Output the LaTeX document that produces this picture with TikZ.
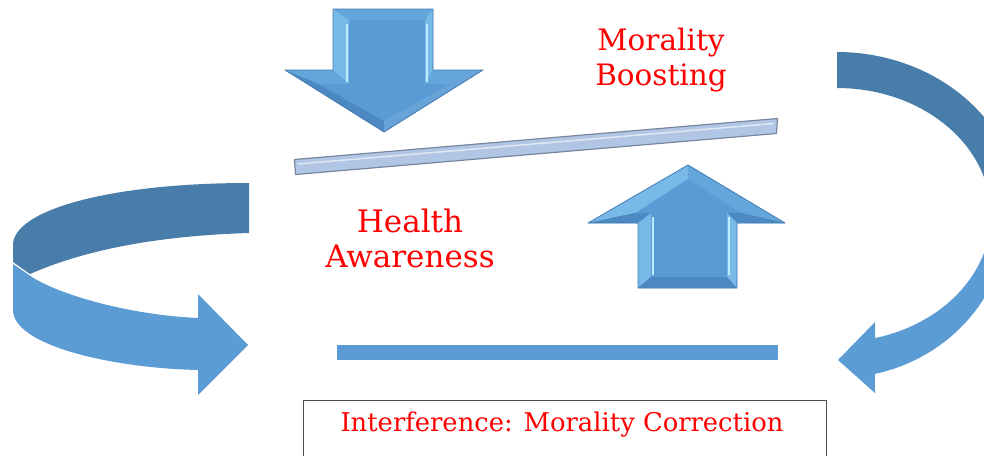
\documentclass[tikz,border=0pt]{standalone}
\usepackage{fontspec}
\setmainfont{DejaVu Serif}
\definecolor{bandDark}{RGB}{72,125,170}
\definecolor{bandLight}{RGB}{91,156,212}
\definecolor{faceBlue}{RGB}{91,155,213}
\definecolor{edgeBlue}{RGB}{70,125,180}
\definecolor{facetLight}{RGB}{120,185,232}
\definecolor{facetMid}{RGB}{100,165,220}
\definecolor{facetDark}{RGB}{76,136,194}
\definecolor{glint}{RGB}{190,236,252}
\definecolor{beamFill}{RGB}{176,198,228}
\definecolor{beamEdge}{RGB}{120,134,158}
\definecolor{textRed}{RGB}{255,0,0}
\tikzset{
  labeltext/.style={text=textRed, font=\fontsize{29.5}{35}\selectfont, align=center, inner sep=0pt},
  labeltextbig/.style={text=textRed, font=\fontsize{31}{35}\selectfont, align=center, inner sep=0pt},
  boxtext/.style={text=textRed, font=\fontsize{25.8}{30}\selectfont, inner sep=0pt},
}
\begin{document}
\begin{tikzpicture}[x=1pt,y=-1pt]
\useasboundingbox (0,0) rectangle (984,455);
\clip (0,0) rectangle (984,455);

% ---------- left curved arrow ----------
\fill[bandDark] (249,183) .. controls (110,183) and (13,210) .. (13,245)
  -- (13,262) -- (30,274) .. controls (80,252) and (150,236) .. (249,233) -- cycle;
\fill[bandLight] (13,264) -- (32,277) .. controls (60,295) and (130,315) .. (198,318)
  -- (198,294) -- (248,345) -- (198,395) -- (198,370)
  .. controls (110,368) and (13,345) .. (13,310) -- cycle;

% ---------- right curved arrow ----------
\fill[bandDark] plot[domain=-90:0,samples=60] ({837+184*cos(\x)},{215+163*sin(\x)})
  -- plot[domain=0:-90,samples=60] ({837+154*cos(\x)},{215+127*sin(\x)}) -- cycle;
\fill[bandLight] plot[domain=0:77.2,samples=60] ({837+171*cos(\x)},{215+163*sin(\x)})
  -- (875,393) -- (838,360) -- (875,322)
  -- plot[domain=75.7:0,samples=60] ({837+154*cos(\x)},{215+127*sin(\x)}) -- cycle;

% ---------- down arrow (bevelled) ----------
\begin{scope}
\fill[faceBlue] (333,9) -- (433,9) -- (433,70) -- (483,70) -- (384,132) -- (285,70) -- (333,70) -- cycle;
\fill[facetMid] (333,9) -- (433,9) -- (425,20) -- (349,20) -- cycle;
\fill[facetLight] (333,9) -- (349,20) -- (349,84) -- (333,70) -- cycle;
\fill[facetLight] (433,9) -- (425,20) -- (425,84) -- (433,70) -- cycle;
\fill[facetMid] (333,70) -- (285,70) -- (318,84) -- (349,84) -- cycle;
\fill[facetMid] (433,70) -- (483,70) -- (450,84) -- (425,84) -- cycle;
\fill[facetDark] (285,70) -- (384,132) -- (384,121) -- (318,84) -- cycle;
\fill[faceBlue!92!white] (483,70) -- (384,132) -- (384,121) -- (450,84) -- cycle;
\draw[glint, line width=2.2pt] (347,24) -- (347,82);
\draw[glint, line width=2.2pt] (427,24) -- (427,82);
\draw[edgeBlue, line width=0.8pt, line join=round] (333,9) -- (433,9) -- (433,70) -- (483,70) -- (384,132) -- (285,70) -- (333,70) -- cycle;
\end{scope}

% ---------- up arrow (bevelled) ----------
\begin{scope}
\fill[faceBlue] (688,165) -- (785,223) -- (737,223) -- (737,288) -- (638,288) -- (638,223) -- (588,223) -- cycle;
\fill[facetLight] (688,165) -- (588,223) -- (635,213) -- (688,179) -- cycle;
\fill[facetMid] (688,165) -- (785,223) -- (741,213) -- (688,179) -- cycle;
\fill[facetDark] (588,223) -- (638,223) -- (651,213) -- (635,213) -- cycle;
\fill[facetDark] (785,223) -- (737,223) -- (727,213) -- (741,213) -- cycle;
\fill[facetLight] (638,223) -- (638,288) -- (651,277) -- (651,213) -- cycle;
\fill[facetLight] (737,223) -- (737,288) -- (727,277) -- (727,213) -- cycle;
\fill[facetDark] (638,288) -- (737,288) -- (727,277) -- (651,277) -- cycle;
\draw[glint, line width=2.2pt] (653,217) -- (653,275);
\draw[glint, line width=2.2pt] (729,217) -- (729,275);
\draw[edgeBlue, line width=0.8pt, line join=round] (688,165) -- (785,223) -- (737,223) -- (737,288) -- (638,288) -- (638,223) -- (588,223) -- cycle;
\end{scope}

% ---------- tilted beam ----------
\filldraw[fill=beamFill, draw=beamEdge, line width=1.2pt] (294.4,159.5) -- (777.6,118.5) -- (776.4,133.5) -- (295.6,174.5) -- cycle;
\draw[white!60!beamFill, line width=1.5pt] (298,164) -- (774,123.5);

% ---------- bottom bar ----------
\fill[faceBlue] (337,345) rectangle (778,360);

% ---------- labels ----------
\node[labeltext] (moral) at (661,60) {Morality\\Boosting};
\node[labeltextbig] (health) at (410,238) {Health\\Awareness};

% ---------- bottom box ----------
\draw[black!70, line width=1pt] (303,400) rectangle (826,470);
\node[boxtext] (interf) at (562,425) {Interference: Morality Correction};
\end{tikzpicture}
\end{document}
